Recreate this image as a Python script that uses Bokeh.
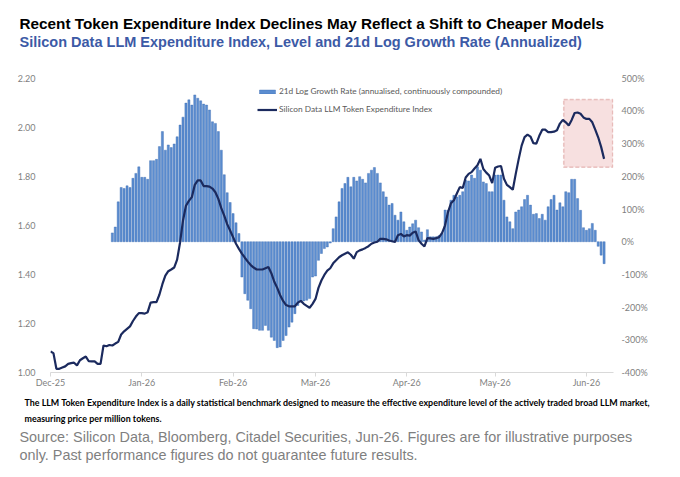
import pandas as pd
from bokeh.plotting import figure
from bokeh.models import (Range1d, LinearAxis, FixedTicker, NumeralTickFormatter,
                          PrintfTickFormatter, DatetimeTickFormatter, BoxAnnotation,
                          Legend, LegendItem, Title, ColumnDataSource)
from bokeh.embed import file_html
from bokeh.resources import INLINE

# ---------------- data ----------------
LINE_START = "2025-12-01"
LINE_VALUES = [
    1.086, 1.079, 1.015, 1.015, 1.020, 1.025, 1.035, 1.038, 1.040, 1.029,
    1.050, 1.058, 1.065, 1.046, 1.045, 1.045, 1.035, 1.035, 1.110, 1.107,
    1.112, 1.110, 1.118, 1.125, 1.155, 1.168, 1.178, 1.188, 1.210, 1.228,
    1.242, 1.242, 1.240, 1.246, 1.285, 1.287, 1.287, 1.318, 1.360, 1.395,
    1.413, 1.420, 1.428, 1.460, 1.530, 1.620, 1.680, 1.700, 1.715, 1.765,
    1.783, 1.783, 1.760, 1.760, 1.758, 1.750, 1.735, 1.708, 1.670, 1.640,
    1.605, 1.579, 1.552, 1.525, 1.504, 1.485, 1.468, 1.452, 1.438, 1.428,
    1.420, 1.420, 1.420, 1.425, 1.430, 1.405, 1.370, 1.345, 1.315, 1.292,
    1.275, 1.270, 1.270, 1.270, 1.285, 1.292, 1.280, 1.272, 1.264, 1.280,
    1.300, 1.345, 1.375, 1.398, 1.415, 1.425, 1.445, 1.458, 1.470, 1.478,
    1.484, 1.490, 1.480, 1.464, 1.491, 1.498, 1.502, 1.508, 1.515, 1.525,
    1.530, 1.533, 1.545, 1.545, 1.543, 1.538, 1.535, 1.532, 1.560, 1.565,
    1.555, 1.560, 1.558, 1.570, 1.575, 1.540, 1.525, 1.514, 1.548, 1.547,
    1.545, 1.548, 1.552, 1.569, 1.600, 1.654, 1.690, 1.702, 1.730, 1.756,
    1.752, 1.795, 1.810, 1.817, 1.832, 1.845, 1.871, 1.830, 1.815, 1.803,
    1.772, 1.835, 1.840, 1.842, 1.790, 1.765, 1.756, 1.745, 1.810, 1.870,
    1.925, 1.960, 1.970, 1.962, 1.935, 1.933, 1.965, 1.990, 1.990, 1.980,
    1.980, 1.982, 1.988, 2.015, 2.030, 2.020, 2.007, 2.030, 2.058, 2.060,
    2.055, 2.040, 2.034, 2.034, 2.020, 1.990, 1.959, 1.920, 1.871,
]

BAR_START = "2025-12-22"
BAR_VALUES = [
    27, 45, 122, 166, 163, 171, 166, 194, 209, 229,
    197, 197, 191, 248, 248, 252, 291, 337, 280, 296,
    288, 299, 321, 357, 381, 424, 434, 418, 449, 439,
    431, 421, 418, 403, 367, 362, 337, 280, 205, 150,
    120, 86, 58, 25, -108, -159, -179, -205, -266, -267,
    -271, -271, -256, -271, -292, -302, -324, -322, -302, -287,
    -261, -246, -220, -195, -181, -181, -179, -174, -108, -105,
    -57, -36, -21, -16, -4,
    40, 76, 122, 163, 178, 197, 168, 197, 186, 199,
    191, 180, 209, 219, 227, 209, 180, 153, 137, 112,
    117, 81, 66, 91, 61, 35,
    45, 55, 66, 43, 30, 5, 37, 15, 15, 15,
    19, 25, 97, 96, 127, 142, 137, 142, 153, 188,
    186, 204, 194, 229, 219, 183, 178, 153, 153, 204,
    204, 204, 127, 76, 61, 40, 91, 97, 107, 129,
    142, 112, 84, 86, 71, 84, 66, 107, 129, 142,
    97, 119, 107, 153, 150, 191, 191, 132, 96, 43,
    35, 40, 56, 35, -14, -41, -67,
]

MONTH_TICKS = ["2025-12-01", "2026-01-01", "2026-02-01", "2026-03-01",
               "2026-04-01", "2026-05-01", "2026-06-01"]
LEFT_TICKS = [1.00, 1.20, 1.40, 1.60, 1.80, 2.00, 2.20]
RIGHT_TICKS = [-400, -300, -200, -100, 0, 100, 200, 300, 400, 500]

HIGHLIGHT_START = "2026-05-24 07:00"
HIGHLIGHT_END = "2026-06-09 22:00"
HIGHLIGHT_LOW = 1.837
HIGHLIGHT_HIGH = 2.113

TITLE = "Recent Token Expenditure Index Declines May Reflect a Shift to Cheaper Models"
SUBTITLE = "Silicon Data LLM Expenditure Index, Level and 21d Log Growth Rate (Annualized)"
BAR_LABEL = "21d Log Growth Rate (annualised, continuously compounded)"
LINE_LABEL = "Silicon Data LLM Token Expenditure Index"
FOOTNOTE = ("The LLM Token Expenditure Index is a daily statistical benchmark designed to measure "
            "the effective expenditure level of the actively traded broad LLM market,\n"
            "measuring price per million tokens.")
SOURCE = ("Source: Silicon Data, Bloomberg, Citadel Securities, Jun-26. Figures are for illustrative purposes\n"
          "only. Past performance figures do not guarantee future results.")

DAY_MS = 86400000.0


def ms(s):
    return pd.Timestamp(s).value / 1e6


line_src = ColumnDataSource(dict(
    date=pd.date_range(LINE_START, periods=len(LINE_VALUES), freq="D"),
    val=LINE_VALUES))
bar_src = ColumnDataSource(dict(
    date=pd.date_range(BAR_START, periods=len(BAR_VALUES), freq="D"),
    val=BAR_VALUES))

x0 = ms("2025-12-01")
p = figure(width=680, height=477, x_axis_type="datetime",
           x_range=Range1d(x0, x0 + 191.2 * DAY_MS),
           y_range=Range1d(1.0, 2.317),
           output_backend="svg", toolbar_location=None,
           min_border_left=50, min_border_right=67,
           min_border_top=49, min_border_bottom=105,
           background_fill_color="white", border_fill_color="white")
p.outline_line_color = None
p.xgrid.visible = False
p.ygrid.visible = False
p.extra_y_ranges = {"pct": Range1d(-400, 588)}

# highlight box
box = BoxAnnotation(left=ms(HIGHLIGHT_START), right=ms(HIGHLIGHT_END),
                    bottom=HIGHLIGHT_LOW, top=HIGHLIGHT_HIGH,
                    fill_color="#EFC2C2", fill_alpha=0.5,
                    line_color="#C0504D", line_dash="4 2", line_width=1.5,
                    level="underlay")
p.add_layout(box)

bars = p.vbar(x="date", top="val", bottom=0, width=0.72 * DAY_MS, source=bar_src,
              y_range_name="pct", fill_color="#5B8DD0", line_color="#3A6AB0",
              line_width=0.4)
line = p.line(x="date", y="val", source=line_src, line_color="#1B2A5E", line_width=2.2)

# x axis
xa = p.xaxis[0]
xa.ticker = FixedTicker(ticks=[ms(t) for t in MONTH_TICKS])
fmt = "%b-%y"
xa.formatter = DatetimeTickFormatter(microseconds=fmt, milliseconds=fmt, seconds=fmt,
                                     minsec=fmt, minutes=fmt, hourmin=fmt, hours=fmt,
                                     days=fmt, months=fmt, years=fmt)
xa.axis_line_color = "#D9D9D9"
xa.major_tick_line_color = "#D9D9D9"
xa.major_tick_out = 4
xa.major_tick_in = 0
xa.minor_tick_line_color = None
xa.major_label_text_font = "Lato"
xa.major_label_text_font_size = "9px"
xa.major_label_text_color = "#7F7F7F"
xa.major_label_standoff = 0

# left axis
ya = p.yaxis[0]
ya.ticker = FixedTicker(ticks=LEFT_TICKS)
ya.formatter = NumeralTickFormatter(format="0.00")
ya.axis_line_color = None
ya.major_tick_line_color = None
ya.minor_tick_line_color = None
ya.major_label_text_font = "Lato"
ya.major_label_text_font_size = "9px"
ya.major_label_text_color = "#7F7F7F"
ya.major_label_standoff = 9

# right axis
ra = LinearAxis(y_range_name="pct", ticker=FixedTicker(ticks=RIGHT_TICKS),
                formatter=PrintfTickFormatter(format="%d%%"))
ra.axis_line_color = None
ra.major_tick_line_color = None
ra.minor_tick_line_color = None
ra.major_label_text_font = "Lato"
ra.major_label_text_font_size = "9px"
ra.major_label_text_color = "#7F7F7F"
ra.major_label_standoff = 2
p.add_layout(ra, "right")

# legend
legend = Legend(items=[LegendItem(label=BAR_LABEL, renderers=[bars]),
                       LegendItem(label=LINE_LABEL, renderers=[line])],
                location=(207, 257), orientation="vertical",
                glyph_width=20, glyph_height=5, label_height=12, spacing=6,
                padding=0, margin=0, label_standoff=2,
                label_text_font="Lato", label_text_font_size="8.3px",
                label_text_color="#595959",
                border_line_color=None, background_fill_alpha=0)
p.add_layout(legend)

# titles (p.title is outermost; added Title sits next to the frame)
p.title.text = TITLE
p.title.text_font = "Liberation Sans"
p.title.text_font_size = "15.3px"
p.title.text_font_style = "bold"
p.title.text_color = "black"
p.title.align = "left"
p.title.offset = -31
p.title.standoff = 0
p.add_layout(Title(text=SUBTITLE, text_font="Liberation Sans", text_font_size="14.5px",
                   text_font_style="bold", text_color="#3C5AA6", align="left",
                   offset=-31, standoff=0), "above")

# footer texts
p.add_layout(Title(text=FOOTNOTE, text_font="Lato", text_font_size="8.9px",
                   text_font_style="bold", text_color="black", align="left",
                   offset=-26, standoff=10, text_line_height=1.47), "below")
p.add_layout(Title(text=SOURCE, text_font="Liberation Sans", text_font_size="14.4px",
                   text_font_style="normal", text_color="#7F7F7F", align="left",
                   offset=-31, standoff=-4, text_line_height=1.13), "below")

open("out.html", "w").write(file_html(p, INLINE))
